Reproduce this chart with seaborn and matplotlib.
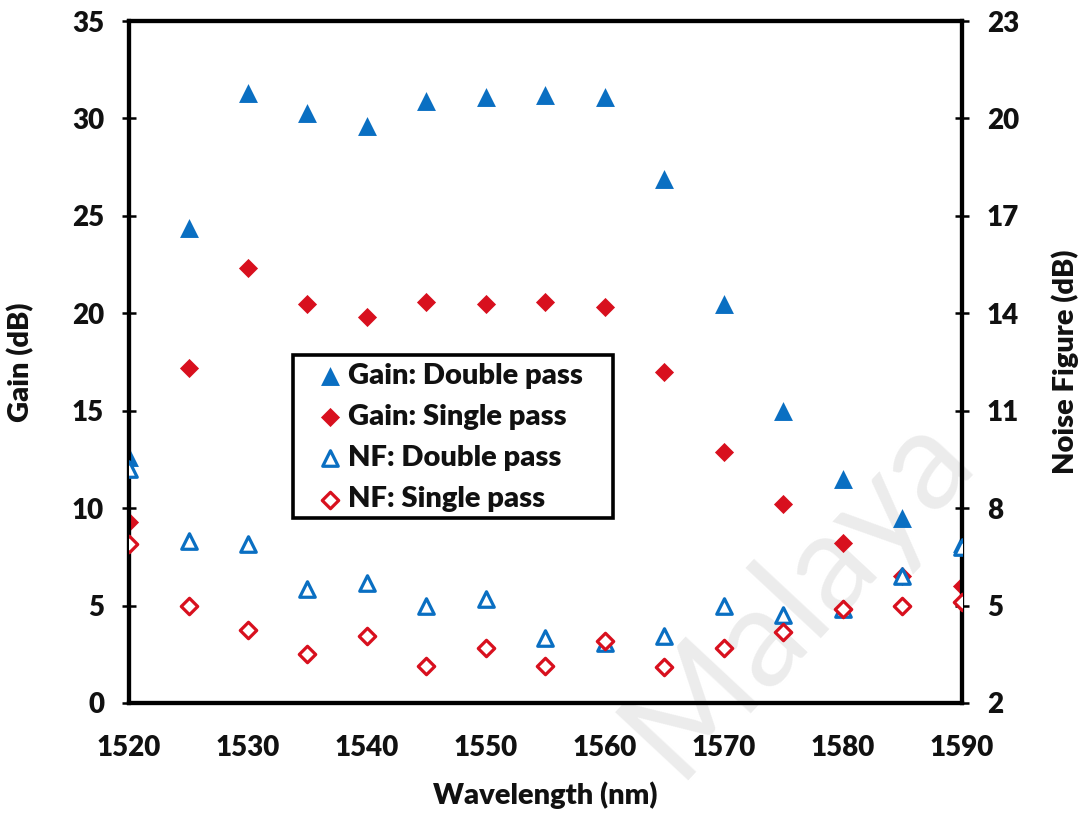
import matplotlib
matplotlib.use("Agg")
import matplotlib.pyplot as plt
from matplotlib.patches import Rectangle
import seaborn as sns
import pandas as pd

# Measured gain and noise figure of the amplifier versus signal wavelength
wavelength = [1520, 1525, 1530, 1535, 1540, 1545, 1550, 1555, 1560,
              1565, 1570, 1575, 1580, 1585, 1590]
gain_double = [12.6, 24.4, 31.3, 30.3, 29.6, 30.9, 31.1, 31.2, 31.1,
               26.9, 20.5, 15.0, 11.5, 9.5, 8.2]
gain_single = [9.3, 17.2, 22.3, 20.5, 19.8, 20.6, 20.5, 20.6, 20.3,
               17.0, 12.9, 10.2, 8.2, 6.5, 6.0]
nf_double = [9.2, 7.0, 6.9, 5.5, 5.7, 5.0, 5.2, 4.0, 3.85,
             4.05, 5.0, 4.7, 4.9, 5.9, 6.8]
nf_single = [6.9, 5.0, 4.25, 3.5, 4.05, 3.15, 3.7, 3.15, 3.9,
             3.1, 3.7, 4.2, 4.9, 5.0, 5.1]

x_ticks = [1520, 1530, 1540, 1550, 1560, 1570, 1580, 1590]
gain_ticks = [0, 5, 10, 15, 20, 25, 30, 35]
nf_ticks = [2, 5, 8, 11, 14, 17, 20, 23]

labels = ["Gain: Double pass", "Gain: Single pass",
          "NF: Double pass", "NF: Single pass"]

BLUE = "#0A6FC2"
RED = "#D8101E"
INK = "#111111"
WEIGHT = "heavy"

sns.set_theme(style="white")
plt.rcParams["font.family"] = ["Lato", "DejaVu Sans"]
plt.rcParams["font.weight"] = WEIGHT

df = pd.DataFrame({"wl": wavelength, "gd": gain_double, "gs": gain_single,
                   "nd": nf_double, "ns": nf_single})

fig = plt.figure(figsize=(10.85, 8.14), dpi=100)
ax = fig.add_axes([0.1189, 0.1364, 0.7677, 0.8378])
ax2 = ax.twinx()

# faint watermark behind the data
fig.text(0.735, 0.272, "Malaya", rotation=47, fontsize=100, color="#ececec",
         ha="center", va="center", fontweight="normal", zorder=0)
ax.set_zorder(1)
ax.patch.set_alpha(0)
ax2.set_zorder(2)
ax2.patch.set_alpha(0)

sns.scatterplot(data=df, x="wl", y="gd", ax=ax, marker="^", s=185,
                color=BLUE, linewidth=0, label=labels[0], legend=False, zorder=3)
sns.scatterplot(data=df, x="wl", y="gs", ax=ax, marker="D", s=95,
                color=RED, linewidth=0, label=labels[1], legend=False, zorder=3)
sns.scatterplot(data=df, x="wl", y="nd", ax=ax2, marker="^", s=125,
                facecolor="white", edgecolor=BLUE, linewidth=2.3,
                label=labels[2], legend=False, zorder=3)
sns.scatterplot(data=df, x="wl", y="ns", ax=ax2, marker="D", s=70,
                facecolor="white", edgecolor=RED, linewidth=2.3,
                label=labels[3], legend=False, zorder=4)

ax.set_xlim(1520, 1590)
ax.set_ylim(0, 35)
ax2.set_ylim(2, 23)
ax.set_xticks(x_ticks)
ax.set_yticks(gain_ticks)
ax2.set_yticks(nf_ticks)

for a in (ax, ax2):
    for sp in a.spines.values():
        sp.set_linewidth(3.0)
        sp.set_color("black")
        sp.set_visible(True)

tick_kw = dict(direction="inout", length=10, width=1.8, color="black",
               labelsize=20, labelcolor=INK)
ax.tick_params(axis="x", pad=18, **tick_kw)
ax.tick_params(axis="y", pad=13, left=True, **tick_kw)
ax2.tick_params(axis="y", pad=13, right=True, **tick_kw)
for lab in ax.get_xticklabels() + ax.get_yticklabels() + ax2.get_yticklabels():
    lab.set_fontweight(WEIGHT)

ax.set_xlabel("Wavelength (nm)", fontsize=21, fontweight=WEIGHT,
              color=INK, labelpad=15)
ax.set_ylabel("Gain (dB)", fontsize=21, fontweight=WEIGHT,
              color=INK, labelpad=27)
ax2.set_ylabel("Noise Figure (dB)", fontsize=21, fontweight=WEIGHT,
               color=INK, labelpad=23)

# legend box drawn separately so its padding can be set freely
ax2.add_patch(Rectangle((0.1969, 0.2713), 0.3841, 0.2390,
                        transform=ax2.transAxes, facecolor="white",
                        edgecolor="black", linewidth=2.6, zorder=5))
handles = ax.collections + ax2.collections
leg = ax2.legend(handles, labels, loc="upper left",
                 bbox_to_anchor=(0.226, 0.499), borderaxespad=0,
                 frameon=False, handletextpad=0.15, handlelength=0.9,
                 labelspacing=0.52, borderpad=0.0,
                 prop={"weight": WEIGHT, "size": 21})
leg.set_zorder(6)
for t in leg.get_texts():
    t.set_color(INK)

fig.savefig("out.png", dpi=100)
